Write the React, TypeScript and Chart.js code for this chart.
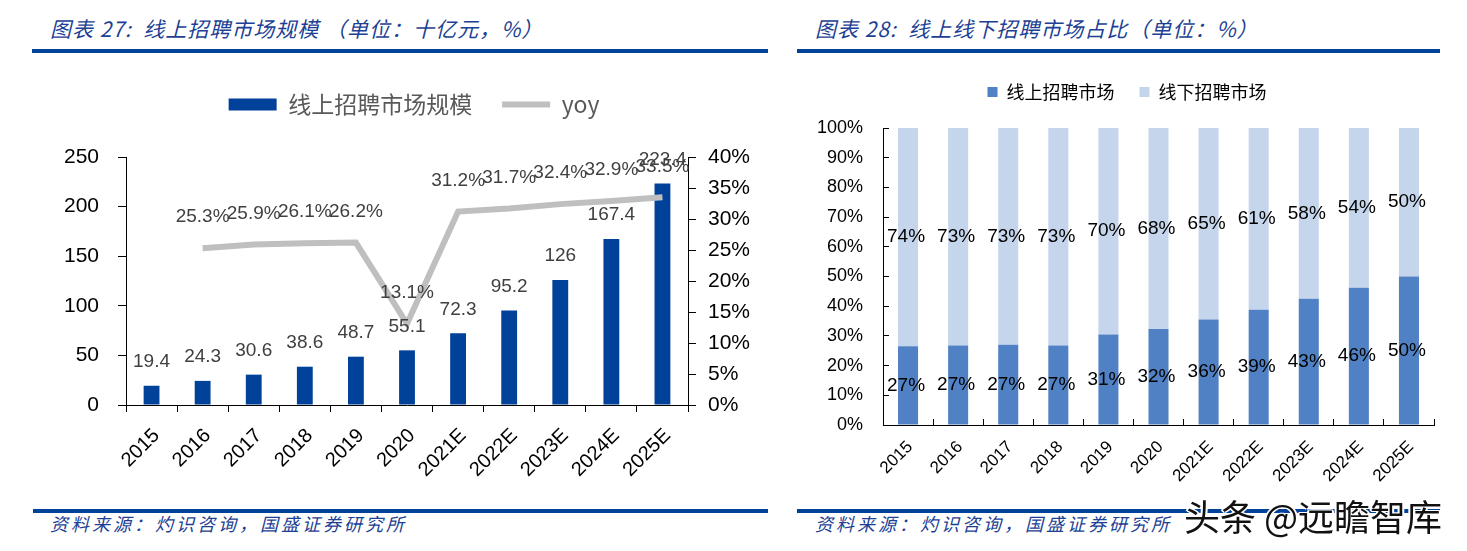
import React, { useEffect, useRef } from 'react';
import { Chart, registerables } from 'chart.js';

Chart.register(...registerables);

// ---- data ----
const years = ['2015', '2016', '2017', '2018', '2019', '2020', '2021E', '2022E', '2023E', '2024E', '2025E'];
const marketSize = [19.4, 24.3, 30.6, 38.6, 48.7, 55.1, 72.3, 95.2, 126, 167.4, 223.4];
const yoyGrowth = [null, 25.3, 25.9, 26.1, 26.2, 13.1, 31.2, 31.7, 32.4, 32.9, 33.5];
const onlineShare = [26.5, 26.8, 27.0, 26.8, 30.5, 32.3, 35.5, 38.8, 42.5, 46.2, 50.0];
const offlineShare = [73.5, 73.2, 73.0, 73.2, 69.5, 67.7, 64.5, 61.2, 57.5, 53.8, 50.0];

const sizeLabel = '线上招聘市场规模';
const yoyLabel = 'yoy';
const onlineLabel = '线上招聘市场';
const offlineLabel = '线下招聘市场';

const FONT = '"Liberation Sans", "Noto Sans CJK SC", sans-serif';
const CJK = '"Noto Sans CJK SC", "Liberation Sans", sans-serif';

const DARK_BLUE = '#00419A';
const GRAY_LINE = '#BFBFBF';
const ONLINE_BLUE = '#4F81C4';
const OFFLINE_BLUE = '#C5D5EC';
const TITLE_BLUE = '#1d3f94';

const leftLabelsPlugin = {
  id: 'leftLabels',
  afterDatasetsDraw(chart: any) {
    const ctx = chart.ctx;
    ctx.save();
    ctx.font = `19px ${FONT}`;
    ctx.fillStyle = '#404040';
    ctx.textAlign = 'center';
    ctx.textBaseline = 'middle';
    chart.data.datasets.forEach((ds: any, di: number) => {
      const meta = chart.getDatasetMeta(di);
      meta.data.forEach((el: any, i: number) => {
        const v = ds.data[i];
        if (v == null) return;
        if (ds.type === 'line') ctx.fillText(v.toFixed(1) + '%', el.x, el.y - 31);
        else ctx.fillText(String(v), el.x, el.y - 24);
      });
    });
    ctx.restore();
  },
};

const rightLabelsPlugin = {
  id: 'rightLabels',
  afterDatasetsDraw(chart: any) {
    const ctx = chart.ctx;
    ctx.save();
    ctx.font = `19px ${FONT}`;
    ctx.fillStyle = '#000';
    ctx.textAlign = 'center';
    ctx.textBaseline = 'middle';
    chart.data.datasets.forEach((ds: any, di: number) => {
      const meta = chart.getDatasetMeta(di);
      meta.data.forEach((el: any, i: number) => {
        const v = ds.data[i];
        if (v == null) return;
        ctx.fillText(Math.round(v) + '%', el.x - 2, (el.y + el.base) / 2);
      });
    });
    ctx.restore();
  },
};

function makeLeft(): any {
  return {
    type: 'bar',
    data: {
      labels: years,
      datasets: [
        {
          type: 'line',
          label: yoyLabel,
          data: yoyGrowth,
          yAxisID: 'y1',
          borderColor: GRAY_LINE,
          borderWidth: 6,
          pointRadius: 0,
          tension: 0,
          order: 0,
        },
        {
          type: 'bar',
          label: sizeLabel,
          data: marketSize,
          yAxisID: 'y',
          backgroundColor: DARK_BLUE,
          barPercentage: 0.31,
          categoryPercentage: 1,
          order: 1,
        },
      ],
    },
    options: {
      animation: false,
      responsive: false,
      devicePixelRatio: 1,
      layout: { padding: 0 },
      plugins: {
        tooltip: { enabled: false },
        legend: {
          position: 'top',
          labels: {
            usePointStyle: true,
            pointStyleWidth: 48,
            boxHeight: 12,
            padding: 30,
            color: '#595959',
            font: { size: 23, family: CJK },
            generateLabels: () => [
              { text: sizeLabel, fillStyle: DARK_BLUE, strokeStyle: DARK_BLUE, lineWidth: 0, pointStyle: 'rect', datasetIndex: 1, hidden: false, fontColor: '#595959' },
              { text: yoyLabel, fillStyle: GRAY_LINE, strokeStyle: GRAY_LINE, lineWidth: 6, pointStyle: 'line', datasetIndex: 0, hidden: false, fontColor: '#595959' },
            ],
          },
        },
        subtitle: {
          display: true,
          text: ' ',
          position: 'top',
          weight: 500,
          font: { size: 1, lineHeight: 1 },
          padding: { top: 30, bottom: 0 },
        },
      },
      scales: {
        x: {
          grid: { display: true, drawOnChartArea: false, drawTicks: true, tickLength: 7, color: '#000', offset: true },
          border: { display: true, color: '#000' },
          ticks: { font: { size: 20, family: FONT }, color: '#000', minRotation: 45, maxRotation: 45, autoSkip: false, padding: 12, labelOffset: 5 },
          afterFit: (s: any) => { s.height = 85; },
        },
        y: {
          position: 'left',
          min: 0,
          max: 250,
          ticks: { stepSize: 50, font: { size: 21, family: FONT }, color: '#000', padding: 19 },
          grid: { drawOnChartArea: false, tickLength: 8, color: '#000' },
          border: { color: '#000' },
          afterFit: (s: any) => { s.width = 73; },
        },
        y1: {
          position: 'right',
          min: 0,
          max: 40,
          ticks: { stepSize: 5, callback: (v: any) => v + '%', font: { size: 21, family: FONT }, color: '#000', padding: 12 },
          grid: { drawOnChartArea: false, tickLength: 8, color: '#000' },
          border: { color: '#000' },
          afterFit: (s: any) => { s.width = 87; },
        },
      },
    },
    plugins: [leftLabelsPlugin],
  };
}

function makeRight(): any {
  return {
    type: 'bar',
    data: {
      labels: years,
      datasets: [
        { label: onlineLabel, data: onlineShare, backgroundColor: ONLINE_BLUE, stack: 's', barPercentage: 0.4, categoryPercentage: 1 },
        { label: offlineLabel, data: offlineShare, backgroundColor: OFFLINE_BLUE, stack: 's', barPercentage: 0.4, categoryPercentage: 1 },
      ],
    },
    options: {
      animation: false,
      responsive: false,
      devicePixelRatio: 1,
      layout: { padding: 0 },
      plugins: {
        tooltip: { enabled: false },
        legend: {
          position: 'top',
          labels: {
            boxWidth: 10,
            boxHeight: 10,
            padding: 25,
            color: '#000',
            font: { size: 18, family: CJK },
          },
        },
        subtitle: {
          display: true,
          text: ' ',
          position: 'top',
          weight: 500,
          font: { size: 1, lineHeight: 1 },
          padding: { top: 16, bottom: 0 },
        },
      },
      scales: {
        x: {
          stacked: true,
          grid: { display: true, drawOnChartArea: false, drawTicks: true, tickLength: -6, color: '#000', offset: true },
          border: { display: true, color: '#000' },
          ticks: { font: { size: 17, family: FONT }, color: '#000', minRotation: 45, maxRotation: 45, autoSkip: false, padding: 18, labelOffset: 2 },
          afterFit: (s: any) => { s.height = 65; },
        },
        y: {
          stacked: true,
          position: 'left',
          min: 0,
          max: 100,
          ticks: { stepSize: 10, callback: (v: any) => v + '%', font: { size: 18, family: FONT }, color: '#000', padding: 26 },
          grid: { drawOnChartArea: false, tickLength: -6, color: '#000' },
          border: { color: '#000' },
          afterFit: (s: any) => { s.width = 96; },
        },
        pad: {
          type: 'linear',
          position: 'right',
          display: true,
          ticks: { display: false },
          grid: { display: false },
          border: { display: false },
          afterFit: (s: any) => { s.width = 33; },
        },
      },
    },
    plugins: [rightLabelsPlugin],
  };
}

function ChartBox(props: { left: number; top: number; width: number; height: number; make: () => any }) {
  const ref = useRef<HTMLCanvasElement>(null);
  useEffect(() => {
    const chart = new Chart(ref.current as HTMLCanvasElement, props.make());
    return () => chart.destroy();
  }, []);
  return (
    <canvas
      ref={ref}
      width={props.width}
      height={props.height}
      style={{ position: 'absolute', left: props.left, top: props.top, width: props.width, height: props.height }}
    />
  );
}

const headerStyle: React.CSSProperties = {
  position: 'absolute',
  fontFamily: CJK,
  fontStyle: 'italic',
  fontSize: 21,
  letterSpacing: 1,
  lineHeight: '26px',
  color: TITLE_BLUE,
  whiteSpace: 'nowrap',
};

const footerStyle: React.CSSProperties = {
  position: 'absolute',
  fontFamily: CJK,
  fontStyle: 'italic',
  fontSize: 18,
  letterSpacing: 3,
  lineHeight: '24px',
  color: TITLE_BLUE,
  whiteSpace: 'nowrap',
};

const rule = (left: number, top: number, width: number, height: number): React.CSSProperties => ({
  position: 'absolute',
  left,
  top,
  width,
  height,
  background: DARK_BLUE,
});

export default function App() {
  return (
    <div style={{ position: 'absolute', left: 0, top: 0, width: 1467, height: 551, background: '#fff', overflow: 'hidden' }}>
      <div style={{ ...headerStyle, left: 50, top: 15 }}>图表 27:&nbsp;&nbsp;线上招聘市场规模 （单位：十亿元，%）</div>
      <div style={{ ...headerStyle, left: 815, top: 15 }}>图表 28:&nbsp;&nbsp;线上线下招聘市场占比（单位：%）</div>
      <div style={rule(32, 49, 736, 4)} />
      <div style={rule(797, 49, 643, 4)} />

      <ChartBox left={53} top={63} width={722} height={427} make={makeLeft} />
      <ChartBox left={787} top={58} width={680} height={432} make={makeRight} />

      <div style={rule(33, 509, 735, 4)} />
      <div style={rule(797, 509, 643, 4)} />
      <div style={{ ...footerStyle, left: 50, top: 511 }}>资料来源：灼识咨询，国盛证券研究所</div>
      <div style={{ ...footerStyle, left: 815, top: 511 }}>资料来源：灼识咨询，国盛证券研究所</div>
      <div
        style={{
          position: 'absolute',
          left: 1184,
          top: 493,
          fontFamily: CJK,
          fontSize: 36,
          lineHeight: '44px',
          color: '#111',
          whiteSpace: 'nowrap',
          textShadow: '1px 1px 0 #fff, -1px -1px 0 #fff, 1px -1px 0 #fff, -1px 1px 0 #fff, 2px 0 0 #fff, -2px 0 0 #fff',
        }}
      >
        头条 @远瞻智库
      </div>
    </div>
  );
}
